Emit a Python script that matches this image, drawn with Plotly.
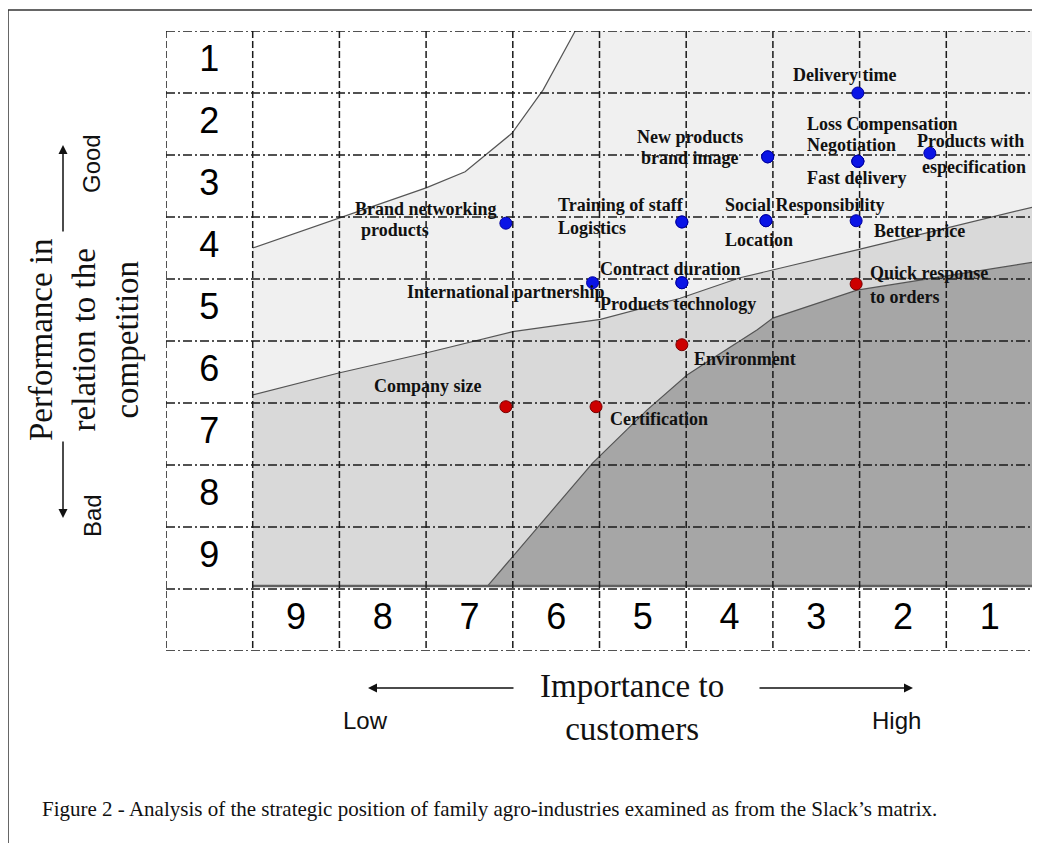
import plotly.graph_objects as go

# ---------------- data ----------------
factors = ["Delivery time", "Loss Compensation", "Negotiation", "Fast delivery",
           "New products", "brand image", "Products with<br>especification",
           "Brand networking<br>products", "Training of staff", "Logistics",
           "Social Responsibility", "Location", "Better price",
           "International partnership", "Contract duration", "Products technology",
           "Quick response<br>to orders", "Environment", "Company size", "Certification"]
importance = [2.52, 2.52, 2.52, 2.52, 3.56, 3.56, 1.69, 6.58, 4.55, 4.55,
              3.58, 3.58, 2.54, 5.58, 4.55, 4.55, 2.54, 4.55, 6.58, 5.54]
performance = [1.5, 2.6, 2.6, 2.6, 2.53, 2.53, 2.47, 3.6, 3.58, 3.58,
               3.56, 3.56, 3.56, 4.56, 4.56, 4.56, 4.58, 5.56, 6.56, 6.56]
status = ["good"] * 16 + ["improve"] * 4

# zone boundaries (importance, performance)
bound1_x = [9.5, 8.5, 7.5, 7.05, 6.51, 6.15, 5.78]
bound1_y = [4.0, 3.52, 3.03, 2.77, 2.15, 1.45, 0.5]
bound2_x = [9.5, 8.52, 7.49, 6.5, 5.49, 4.57, 3.88, 2.53, 0.5]
bound2_y = [6.37, 6.02, 5.69, 5.35, 5.15, 4.81, 4.48, 4.03, 3.34]
bound3_x = [6.79, 5.58, 4.95, 4.49, 4.26, 3.68, 3.5, 2.53, 0.5]
bound3_y = [9.45, 7.47, 6.61, 6.05, 5.84, 5.32, 5.13, 4.68, 4.23]

row_labels = ["1", "2", "3", "4", "5", "6", "7", "8", "9"]
col_labels = ["9", "8", "7", "6", "5", "4", "3", "2", "1"]

# ---------------- layout helpers ----------------
OFF = 8                      # page body margin
W, H = 1032, 835
L, T = 158, 23
PW, PH = 867, 620
R = W - L - PW
B = H - T - PH


def px(x):
    """page pixel x -> paper"""
    return (x - OFF - L) / PW


def py(y):
    """page pixel y -> paper"""
    return (T + PH - (y - OFF)) / PH


SERIF = "Liberation Serif, Times New Roman, serif"
SANS = "Liberation Sans, Arial, sans-serif"

XMIN, XMAX = 0.5, 9.5       # matrix extent (importance)
YTOP, YBOT = 0.5, 9.45      # matrix extent (performance)

fig = go.Figure()

fig.add_trace(go.Scatter(x=[XMAX, XMIN, XMIN, XMAX], y=[YTOP, YTOP, YBOT, YBOT],
                         fill="toself", fillcolor="#f0f0f0", mode="none",
                         hoverinfo="skip", showlegend=False))
fig.add_trace(go.Scatter(x=bound1_x + [XMAX], y=bound1_y + [YTOP],
                         fill="toself", fillcolor="#ffffff", mode="none",
                         hoverinfo="skip", showlegend=False))
fig.add_trace(go.Scatter(x=bound2_x + [XMIN, XMAX], y=bound2_y + [YBOT, YBOT],
                         fill="toself", fillcolor="#d9d9d9", mode="none",
                         hoverinfo="skip", showlegend=False))
fig.add_trace(go.Scatter(x=bound3_x + [XMIN], y=bound3_y + [YBOT],
                         fill="toself", fillcolor="#a6a6a6", mode="none",
                         hoverinfo="skip", showlegend=False))
for bx, by in [(bound1_x, bound1_y), (bound2_x, bound2_y), (bound3_x, bound3_y)]:
    fig.add_trace(go.Scatter(x=bx, y=by, mode="lines",
                             line=dict(color="#555555", width=1.2),
                             hoverinfo="skip", showlegend=False))
fig.add_trace(go.Scatter(x=[XMAX, XMIN], y=[YBOT, YBOT], mode="lines",
                         line=dict(color="#606060", width=2.5),
                         hoverinfo="skip", showlegend=False))

# grid lines
hx, hy = [], []
for k in range(11):
    yy = 0.5 + k
    hx += [10.5, 0.5, None]
    hy += [yy, yy, None]
fig.add_trace(go.Scatter(x=hx, y=hy, mode="lines",
                         line=dict(color="#1a1a1a", width=1.5, dash="9px,3px,2px,3px"),
                         hoverinfo="skip", showlegend=False))
vx, vy = [], []
for k in range(11):
    xx = 0.5 + k
    vx += [xx, xx, None]
    vy += [0.5, 10.5, None]
fig.add_trace(go.Scatter(x=vx, y=vy, mode="lines",
                         line=dict(color="#1a1a1a", width=1.5, dash="7px,3px"),
                         hoverinfo="skip", showlegend=False))

# row / column labels
fig.add_trace(go.Scatter(x=[10] * len(row_labels), y=list(range(1, 10)), text=row_labels,
                         mode="text", textfont=dict(family=SANS, size=36, color="#000"),
                         hoverinfo="skip", showlegend=False))
fig.add_trace(go.Scatter(x=list(range(9, 0, -1)), y=[10] * len(col_labels), text=col_labels,
                         mode="text", textfont=dict(family=SANS, size=36, color="#000"),
                         hoverinfo="skip", showlegend=False))

# points
colors = {"good": "#0a14e6", "improve": "#cc0000"}
edges = {"good": "#0000a0", "improve": "#7a0000"}
for st in ["good", "improve"]:
    xs = [importance[i] for i in range(len(factors)) if status[i] == st]
    ys = [performance[i] for i in range(len(factors)) if status[i] == st]
    nm = [factors[i] for i in range(len(factors)) if status[i] == st]
    fig.add_trace(go.Scatter(x=xs, y=ys, mode="markers", text=nm,
                             marker=dict(size=12, color=colors[st],
                                         line=dict(color=edges[st], width=1)),
                             showlegend=False))

# label placement: (xanchor, dx, dy) per line, pixels (dy downward)
label_pos = {
    "Delivery time": [("center", -13, -18)],
    "Loss Compensation": [("left", -53, -37)],
    "Negotiation": [("left", -53, -16)],
    "Fast delivery": [("left", -53, 17)],
    "New products": [("center", -78, -20)],
    "brand image": [("center", -78, 1)],
    "Products with<br>especification": [("left", -15, -12), ("left", -10, 14)],
    "Brand networking<br>products": [("left", -153, -14), ("left", -147, 7)],
    "Training of staff": [("left", -126, -17)],
    "Logistics": [("left", -126, 6)],
    "Social Responsibility": [("left", -43, -16)],
    "Location": [("left", -43, 19)],
    "Better price": [("left", 16, 10)],
    "International partnership": [("left", -188, 9)],
    "Contract duration": [("left", -84, -14)],
    "Products technology": [("left", -84, 21)],
    "Quick response<br>to orders": [("left", 12, -11), ("left", 12, 13)],
    "Environment": [("left", 10, 14)],
    "Company size": [("left", -134, -21)],
    "Certification": [("left", 12, 12)],
}
annotations = []
for i, name in enumerate(factors):
    parts = name.split("<br>")
    for part, (anc, dx, dy) in zip(parts, label_pos[name]):
        annotations.append(dict(x=importance[i], y=performance[i], xref="x", yref="y",
                                text=part, showarrow=False, xanchor=anc, yanchor="middle",
                                xshift=dx, yshift=-dy,
                                font=dict(family=SERIF, size=18, color="#111", weight="bold")))


def note(x, y, text, family, size, angle=0, xanchor="center"):
    return dict(x=px(x), y=py(y), xref="paper", yref="paper", showarrow=False,
                text=text, textangle=angle, xanchor=xanchor, yanchor="middle",
                font=dict(family=family, size=size, color="#111"))


annotations += [
    note(84, 340, "Performance in<br>relation to the<br>competition", SERIF, 33, -90),
    note(92, 164, "Good", SANS, 24, -90),
    note(92, 516, "Bad", SANS, 24, -90),
    note(632, 707, "Importance to<br>customers", SERIF, 33),
    note(365, 720, "Low", SANS, 24),
    note(896, 720, "High", SANS, 24),
    note(40, 809,
         "Figure 2 - Analysis of the strategic position of family agro-industries examined as from the Slack\u2019s matrix.",
         SERIF, 21, xanchor="left"),
]
for tip, tail in [((63, 145), (63, 233)), ((63, 518), (63, 440)),
                  ((368, 688), (515, 688)), ((913, 688), (758, 688))]:
    annotations.append(dict(x=px(tip[0]), y=py(tip[1]), xref="paper", yref="paper",
                            ax=tail[0] - tip[0], ay=tail[1] - tip[1], text="",
                            showarrow=True, arrowhead=2, arrowsize=1.2, arrowwidth=1.5,
                            arrowcolor="#111"))

shapes = [
    dict(type="line", xref="paper", yref="paper", x0=px(8), y0=py(10), x1=px(1045), y1=py(10),
         line=dict(color="#333", width=1.5)),
    dict(type="line", xref="paper", yref="paper", x0=px(8), y0=py(10), x1=px(8), y1=py(850),
         line=dict(color="#333", width=1.5)),
]

fig.update_layout(
    width=W, height=H,
    margin=dict(l=L, r=R, t=T, b=B, pad=0),
    paper_bgcolor="white", plot_bgcolor="white",
    xaxis=dict(range=[10.5, 0.5], visible=False, fixedrange=True),
    yaxis=dict(range=[10.5, 0.5], visible=False, fixedrange=True),
    annotations=annotations, shapes=shapes, showlegend=False,
)

fig.write_html("out.html")
